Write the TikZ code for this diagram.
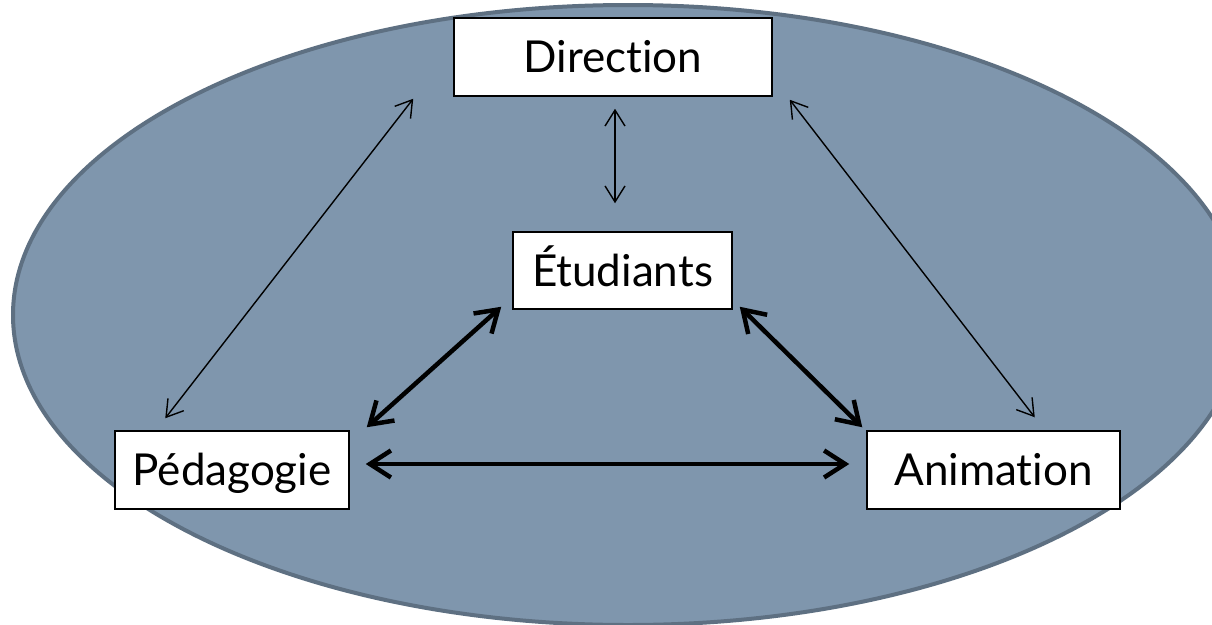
\documentclass[tikz,border=0pt]{standalone}
\usepackage{fontspec}
\setmainfont[RawFeature=-liga]{Lato}
\usetikzlibrary{arrows.meta,calc}
\definecolor{ellfill}{RGB}{127,150,173}
\definecolor{elldraw}{RGB}{94,112,130}
\tikzset{
  box/.style={draw=black, line width=1.5pt, fill=white, inner sep=0pt,
    text height=31pt, text depth=0pt, font=\fontsize{44}{50}\selectfont},
  thin/.style={line width=1.4pt, {Straight Barb[length=16pt,width=20pt,line width=1.4pt]}-{Straight Barb[length=16pt,width=20pt,line width=1.4pt]}},
  thick/.style={line width=4.5pt, line cap=round, {Straight Barb[length=21pt,width=27pt,line width=4.5pt]}-{Straight Barb[length=21pt,width=27pt,line width=4.5pt]}}
}
\begin{document}
\begin{tikzpicture}[x=1pt,y=-1pt]
\useasboundingbox (0,0) rectangle (1212,624);
\clip (0,0) rectangle (1212,624);
\fill[white] (0,0) rectangle (1212,624);
\draw[fill=ellfill, draw=elldraw, line width=4pt] (628,315) ellipse [x radius=615, y radius=310];
\node[box, minimum width=318pt, minimum height=78pt] (D) at (613,57) {Direction};
\node[box, minimum width=219pt, minimum height=77pt] (E) at (622.5,270.5) {Étudiants};
\node[box, minimum width=234pt, minimum height=78pt] (P) at (232,470) {Pédagogie};
\node[box, minimum width=253pt, minimum height=78pt] (A) at (993.5,470) {Animation};
\draw[thin] ($(D.south)+(2,12)$) -- ($(E.north)+(-7.5,-28)$);
\draw[thin] ($(D.south west)+(-40,2)$) -- ($(P.north west)+(51,-12)$);
\draw[thin] ($(D.south east)+(17,3)$) -- ($(A.north east)+(-86,-13)$);
\draw[thick] ($(E.south west)+(-11,-3)$) -- ($(P.north east)+(17,-3)$);
\draw[thick] ($(E.south east)+(7,-3)$) -- ($(A.north west)+(-4,-3)$);
\draw[thick] ($(P.east)+(16,-6)$) -- ($(A.west)+(-17,-6)$);
\end{tikzpicture}
\end{document}
